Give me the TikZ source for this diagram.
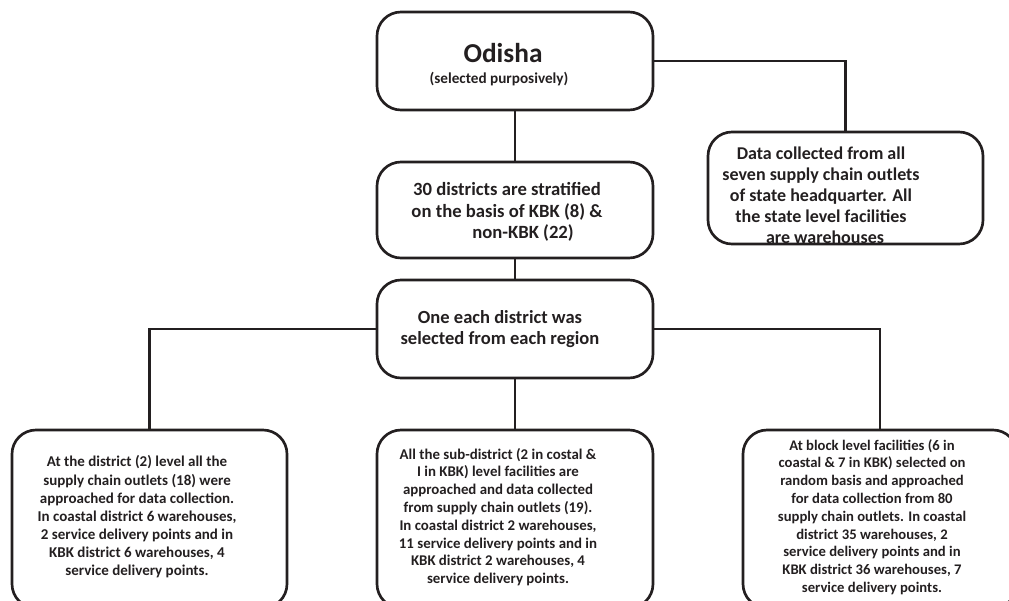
\documentclass[tikz,border=0pt]{standalone}
\usepackage{fontspec}
\setmainfont{Carlito}
\definecolor{ink}{HTML}{231F20}
\begin{document}
\begin{tikzpicture}[x=0.75pt,y=-0.75pt,
  box/.style={draw=ink,line width=2pt,rounded corners=18pt,inner sep=0pt},
  txt/.style={text=ink,align=center,inner sep=0pt,font=\bfseries},
  link/.style={draw=ink,line width=2pt}]
\useasboundingbox (0,0) rectangle (1009,600);
\clip (0,0) rectangle (1009,600);
% boxes
\node[box,minimum width=207pt,minimum height=73.5pt] (odisha) at (515,61) {};
\node[box,minimum width=206.25pt,minimum height=84pt] (data) at (845.5,188) {};
\node[box,minimum width=207pt,minimum height=72pt] (strat) at (515,210) {};
\node[box,minimum width=207pt,minimum height=73.5pt] (sel) at (515,329) {};
\node[box,minimum width=206.25pt,minimum height=133.5pt] (dist) at (149.5,519) {};
\node[box,minimum width=207pt,minimum height=133.5pt] (sub) at (515,519) {};
\node[box,minimum width=205.5pt,minimum height=133.5pt] (block) at (880,519) {};
% connectors
\draw[link] (odisha.south) -- (strat.north);
\draw[link] (odisha.east) -| (data.north);
\draw[link] (strat.south) -- (sel.north);
\draw[link] (sel.west) -| (dist.north);
\draw[link] (sel.east) -| (block.north);
\draw[link] (sel.south) -- (sub.north);
% texts
\node[txt,font=\bfseries\fontsize{20.5}{24}\selectfont] (t1) at (503,53) {Odisha};
\node[txt,font=\bfseries\fontsize{11.4}{13}\selectfont] (t1b) at (499,79) {(selected purposively)};
\node[txt,font=\bfseries\fontsize{13.5}{15.8}\selectfont] (t2) at (821,195) {Data collected from all\\seven supply chain outlets\\of state headquarter. All\\the state level facilities\\\hspace*{6pt}are warehouses};
\node[txt,font=\bfseries\fontsize{14}{16.2}\selectfont] (t3) at (507,212) {30 districts are stratified\\on the basis of KBK (8) \&\\\hspace*{24pt}non-KBK (22)};
\node[txt,font=\bfseries\fontsize{13.9}{16.4}\selectfont] (t4) at (500,329) {One each district was\\selected from each region};
\node[txt,font=\bfseries\fontsize{11.25}{13.6}\selectfont] (t5) at (137,517) {At the district (2) level all the\\supply chain outlets (18) were\\approached for data collection.\\In coastal district 6 warehouses,\\2 service delivery points and in\\KBK district 6 warehouses, 4\\service delivery points.};
\node[txt,font=\bfseries\fontsize{11.15}{13.35}\selectfont] (t6) at (498,517) {All the sub-district (2 in costal \&\\I in KBK) level facilities are\\approached and data collected\\from supply chain outlets (19).\\In coastal district 2 warehouses,\\11 service delivery points and in\\KBK district 2 warehouses, 4\\service delivery points.};
\node[txt,font=\bfseries\fontsize{11}{13.35}\selectfont] (t7) at (872,517) {At block level facilities (6 in\\coastal \& 7 in KBK) selected on\\random basis and approached\\for data collection from 80\\supply chain outlets. In coastal\\district 35 warehouses, 2\\service delivery points and in\\KBK district 36 warehouses, 7\\service delivery points.};
\end{tikzpicture}
\end{document}
